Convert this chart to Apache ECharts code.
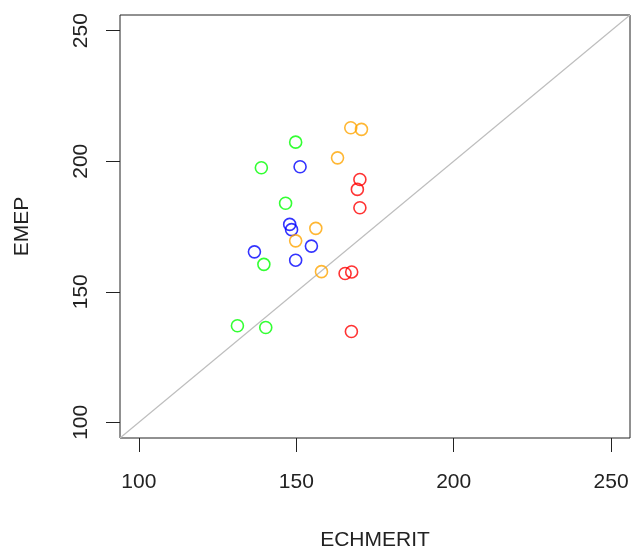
<!DOCTYPE html>
<html>
<head>
<meta charset="utf-8">
<script src="https://cdn.jsdelivr.net/npm/echarts@6/dist/echarts.min.js"></script>
<style>html,body{margin:0;padding:0;background:#fff}#c{width:631px;height:550px}</style>
</head>
<body>
<div id="c"></div>
<script>
var xTicks = [100, 150, 200, 250];
var yTicks = [100, 150, 200, 250];
var axisMin = 94, axisMax = 256;

var greenX = [149.8, 138.9, 146.6, 139.7, 131.3, 140.3];
var greenY = [207.3, 197.5, 183.9, 160.5, 137.0, 136.3];
var blueX = [151.2, 147.9, 148.5, 154.8, 136.7, 149.8];
var blueY = [197.9, 175.8, 173.8, 167.5, 165.3, 162.1];
var orangeX = [167.3, 170.7, 163.1, 156.2, 149.8, 158.0];
var orangeY = [212.8, 212.2, 201.3, 174.3, 169.5, 157.7];
var redX = [170.2, 169.4, 170.2, 165.5, 167.6, 167.5];
var redY = [193.0, 189.2, 182.2, 157.0, 157.6, 134.8];

function pairs(xs, ys) { return xs.map(function (v, i) { return [v, ys[i]]; }); }
function pts(name, xs, ys, color) {
  return {
    name: name, type: 'scatter', data: pairs(xs, ys), symbol: 'circle', symbolSize: 12,
    itemStyle: { color: 'rgba(0,0,0,0)', borderColor: color, borderWidth: 1.6 },
    emphasis: { disabled: true }, z: 3
  };
}
var font = '"Liberation Sans", Arial, sans-serif';
var chart = echarts.init(document.getElementById('c'), null, { renderer: 'canvas' });
chart.setOption({
  animation: false,
  backgroundColor: '#fff',
  grid: { left: 120, right: 1, top: 15, bottom: 112, show: true, borderColor: '#222', borderWidth: 1, backgroundColor: 'transparent', containLabel: false, outerBoundsMode: 'none' },
  xAxis: {
    type: 'value', min: axisMin, max: axisMax,
    name: 'ECHMERIT', nameLocation: 'middle', nameGap: 92,
    nameTextStyle: { fontFamily: font, fontSize: 21, color: '#222' },
    axisLine: { show: false },
    axisTick: { show: true, inside: false, length: 14, customValues: xTicks, lineStyle: { color: '#222', width: 1 } },
    axisLabel: { customValues: xTicks, margin: 34, fontFamily: font, fontSize: 21, color: '#222' },
    splitLine: { show: false }
  },
  yAxis: {
    type: 'value', min: axisMin, max: axisMax,
    name: 'EMEP', nameLocation: 'middle', nameGap: 87, nameRotate: 90,
    nameTextStyle: { fontFamily: font, fontSize: 21, color: '#222' },
    axisLine: { show: false },
    axisTick: { show: true, inside: false, length: 14, customValues: yTicks, lineStyle: { color: '#222', width: 1 } },
    axisLabel: { customValues: yTicks, rotate: 90, margin: 28, fontFamily: font, fontSize: 21, color: '#222' },
    splitLine: { show: false }
  },
  series: [
    {
      type: 'line', data: [[axisMin, axisMin], [axisMax, axisMax]], symbol: 'none',
      lineStyle: { color: '#bebebe', width: 1.2 }, clip: true, z: 1, silent: true
    },
    pts('green', greenX, greenY, '#00ff00'),
    pts('blue', blueX, blueY, '#0000ff'),
    pts('orange', orangeX, orangeY, '#ffa500'),
    pts('red', redX, redY, '#ff0000')
  ]
});
</script>
</body>
</html>
